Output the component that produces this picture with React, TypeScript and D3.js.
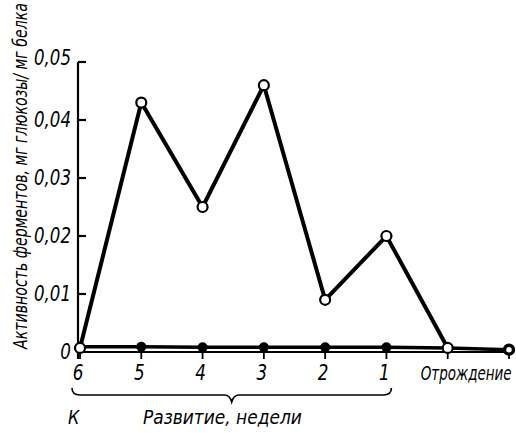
import { useLayoutEffect, useRef, useState } from "react";
import * as d3 from "d3";

const weeks = ["6", "5", "4", "3", "2", "1", "Отрождение", ""];
const openValues = [0.0007, 0.043, 0.025, 0.046, 0.009, 0.02, 0.0007];
const filledValues = [0.0009, 0.0009, 0.0008, 0.0008, 0.0008, 0.0008, 0.0007, 0.0004];
const yTicks = [0, 0.01, 0.02, 0.03, 0.04, 0.05];

const W = 516;
const H = 433;
const FONT = "'DejaVu Sans', sans-serif";

const fmt = (v: number) => (v === 0 ? "0" : d3.format(".2f")(v).replace(".", ","));

type FitProps = {
  x: number;
  y: number;
  width?: number;
  anchor?: "start" | "middle" | "end";
  rotate?: number;
  fontSize: number;
  children: string;
};

// condensed look: squeeze text horizontally to a target width
const FitText = ({ x, y, width, anchor = "start", rotate = 0, fontSize, children }: FitProps) => {
  const ref = useRef<SVGTextElement>(null);
  const [s, setS] = useState(0.8);
  useLayoutEffect(() => {
    if (!width || !ref.current) return;
    const len = ref.current.getComputedTextLength();
    if (len > 0) setS(width / len);
  }, [width, children, fontSize]);
  return (
    <g transform={`translate(${x},${y}) rotate(${rotate}) scale(${s},1)`}>
      <text ref={ref} textAnchor={anchor} fontSize={fontSize}>
        {children}
      </text>
    </g>
  );
};

export default function App() {
  const x = d3.scalePoint<number>().domain(d3.range(weeks.length)).range([80, 509]);
  const y = d3.scaleLinear().domain([0, 0.05]).range([352, 62]);

  const line = d3
    .line<number>()
    .x((_, i) => x(i) as number)
    .y((d) => y(d));

  const axisX = 78;
  const y0 = y(0);
  const left = (x(0) as number) - 8;
  const right = (x(5) as number) + 5;
  const mid = (left + right) / 2;
  const bt = 388;
  const bb = 395;
  const brace = `M${left},${bt} Q${left},${bb} ${left + 8},${bb} L${mid - 7},${bb} Q${mid - 2},${bb} ${mid},${bb + 7} Q${mid + 2},${bb} ${mid + 7},${bb} L${right - 8},${bb} Q${right},${bb} ${right},${bt}`;

  return (
    <svg
      width={W}
      height={H}
      style={{ position: "absolute", left: 0, top: 0, background: "#fff" }}
      fontFamily={FONT}
      fontStyle="italic"
    >
      {/* y axis */}
      <line x1={axisX} x2={axisX} y1={y(0.05)} y2={y0 + 7} stroke="#000" strokeWidth={2.2} />
      {yTicks.map((t) => (
        <g key={t}>
          {t > 0 && <line x1={axisX} x2={axisX + 8} y1={y(t)} y2={y(t)} stroke="#000" strokeWidth={2.2} />}
          <FitText
            x={71}
            y={y(t) + (t === 0.05 ? 3 : 7)}
            anchor="end"
            fontSize={21}
            width={t === 0 ? undefined : 37}
          >
            {fmt(t)}
          </FitText>
        </g>
      ))}
      <FitText x={27} y={176} rotate={-90} anchor="middle" fontSize={20} width={346}>
        Активность ферментов, мг глюкозы/ мг белка
      </FitText>

      {/* x axis */}
      <line x1={axisX} x2={x(7)} y1={y0} y2={y0} stroke="#000" strokeWidth={1.8} />
      {weeks.map((w, i) => (
        <g key={i}>
          <line x1={x(i)} x2={x(i)} y1={y0} y2={y0 + 7} stroke="#000" strokeWidth={1.8} />
          {i < 6 && (
            <FitText x={(x(i) as number) - 2} y={380} anchor="middle" fontSize={21}>
              {w}
            </FitText>
          )}
          {i === 6 && (
            <FitText x={(x(i) as number) - 27} y={380} fontSize={20} width={91}>
              {w}
            </FitText>
          )}
        </g>
      ))}
      <path d={brace} fill="none" stroke="#000" strokeWidth={1.6} />
      <FitText x={68} y={424} fontSize={20}>
        К
      </FitText>
      <FitText x={143} y={424} fontSize={20} width={159}>
        Развитие, недели
      </FitText>

      {/* filled series */}
      <path d={line(filledValues) || ""} fill="none" stroke="#000" strokeWidth={3.5} />
      {filledValues.map((v, i) =>
        i >= 1 && i <= 5 ? (
          <circle key={i} cx={x(i)} cy={y(v)} r={5} fill="#000" />
        ) : null
      )}
      <circle cx={x(7)} cy={y(filledValues[7])} r={4.5} fill="#fff" stroke="#000" strokeWidth={3.5} />

      {/* open series */}
      <path d={line(openValues) || ""} fill="none" stroke="#000" strokeWidth={4} strokeLinejoin="miter" />
      {openValues.map((v, i) => (
        <circle key={i} cx={x(i)} cy={y(v)} r={5} fill="#fff" stroke="#000" strokeWidth={2.2} />
      ))}
    </svg>
  );
}
